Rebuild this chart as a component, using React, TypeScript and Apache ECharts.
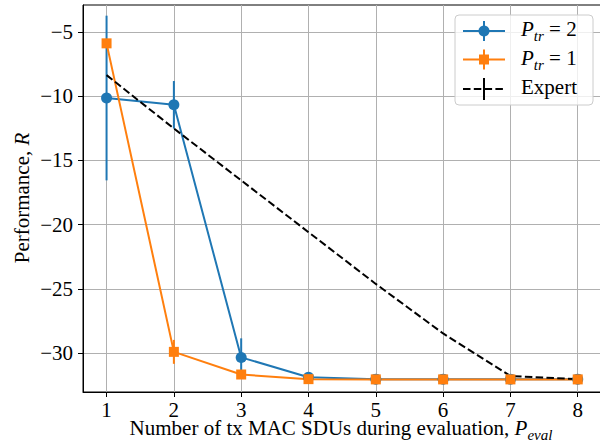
import React, { useEffect, useRef } from 'react';
import * as echarts from 'echarts';

const xValues = [1, 2, 3, 4, 5, 6, 7, 8];
const xTicks = [1, 2, 3, 4, 5, 6, 7, 8];
const yTicks = [-30, -25, -20, -15, -10, -5];
const ptr2Mean = [-10.15, -10.68, -30.31, -31.85, -32.0, -32.0, -32.0, -32.0];
const ptr2Err = [6.4, 1.85, 1.48, 0.1, 0, 0, 0, 0];
const ptr1Mean = [-5.9, -29.88, -31.64, -32.0, -32.02, -32.02, -32.02, -32.02];
const ptr1Err = [0, 0.93, 0.15, 0.05, 0, 0, 0, 0];
const expertMean = [-8.37, -12.52, -16.55, -20.58, -24.6, -28.45, -31.76, -32.0];

const BLUE = '#1f77b4';
const ORANGE = '#ff7f0e';
const FONT = 'Liberation Serif';
const FS = 21;
const SUB = 15;

const fmtNum = (v: number) => (v < 0 ? '\u2212' + Math.abs(v) : String(v));

type Part = { t: string; italic?: boolean; sub?: boolean };

let ctx: CanvasRenderingContext2D | null = null;
const fontStr = (p: Part) => `${p.italic ? 'italic ' : ''}${p.sub ? SUB : FS}px "${FONT}"`;
const measure = (p: Part) => {
  if (!ctx) ctx = document.createElement('canvas').getContext('2d');
  ctx!.font = fontStr(p);
  return ctx!.measureText(p.t).width;
};

// builds text elements; yMid is the "central" line of the main-size text
const mathText = (parts: Part[], x: number, yMid: number, align: 'left' | 'center', z = 0) => {
  const widths = parts.map(measure);
  const total = widths.reduce((a, b) => a + b, 0);
  let cx = align === 'center' ? x - total / 2 : x;
  return parts.map((p, k) => {
    const el = {
      type: 'text',
      x: cx,
      y: p.sub ? yMid + 7 : yMid,
      z,
      silent: true,
      style: {
        text: p.t,
        fontSize: p.sub ? SUB : FS,
        fontFamily: FONT,
        fontStyle: p.italic ? 'italic' : 'normal',
        lineHeight: p.sub ? 12 : 17,
        fill: '#000',
        align: 'left',
        verticalAlign: 'middle',
      },
    };
    cx += widths[k];
    return el;
  });
};

export default function App() {
  const ref = useRef<HTMLDivElement>(null);
  useEffect(() => {
    const chart = echarts.init(ref.current!, null, { renderer: 'svg' });
    const errSeries = (name: string, mean: number[], err: number[], color: string) => ({
      type: 'custom',
      name,
      silent: true,
      data: xValues.map((x, i) => [x, mean[i] - err[i], mean[i] + err[i]]),
      encode: { x: 0, y: [1, 2] },
      renderItem: (_p: any, api: any) => {
        const lo = api.coord([api.value(0), api.value(1)]);
        const hi = api.coord([api.value(0), api.value(2)]);
        return {
          type: 'line',
          shape: { x1: lo[0], y1: lo[1], x2: hi[0], y2: hi[1] },
          style: { stroke: color, lineWidth: 2 },
        };
      },
    });
    const lineSeries = (name: string, mean: number[], color: string, symbol: string, size: number) => ({
      type: 'line',
      name,
      silent: true,
      data: xValues.map((x, i) => [x, mean[i]]),
      symbol,
      symbolSize: size,
      showSymbol: true,
      lineStyle: { color, width: 2 },
      itemStyle: { color, opacity: 1 },
    });

    const legX0 = 463, legX1 = 505, legXm = 484;
    const rows = [31, 59.5, 89];

    chart.setOption({
      animation: false,
      grid: { left: 83, right: -1.3, top: 5, bottom: 50, show: true, borderColor: '#000', borderWidth: 1, backgroundColor: 'transparent', outerBoundsMode: 'none', containLabel: false },
      xAxis: {
        type: 'value', min: 0.65, max: 8.35, splitNumber: 8, minInterval: 1, maxInterval: 1,
        axisLine: { show: true, onZero: false, lineStyle: { color: '#000', width: 1 } },
        axisTick: { show: true, inside: false, length: 5, customValues: xTicks, lineStyle: { color: '#000', width: 1 } },
        axisLabel: { customValues: xTicks, margin: 10, lineHeight: 16, color: '#000', fontSize: FS, fontFamily: FONT, formatter: (v: number) => fmtNum(v) },
        splitLine: { show: true, lineStyle: { color: '#b0b0b0', width: 1 } },
      },
      yAxis: {
        type: 'value', min: -33.0, max: -2.92, splitNumber: 6, minInterval: 5, maxInterval: 5,
        axisLine: { show: true, onZero: false, lineStyle: { color: '#000', width: 1 } },
        axisTick: { show: true, inside: false, length: 5, customValues: yTicks, lineStyle: { color: '#000', width: 1 } },
        axisLabel: { customValues: yTicks, margin: 10, color: '#000', fontSize: FS, fontFamily: FONT, formatter: (v: number) => fmtNum(v) },
        splitLine: { show: true, lineStyle: { color: '#b0b0b0', width: 1 } },
      },
      series: [
        errSeries('P_tr=2 err', ptr2Mean, ptr2Err, BLUE),
        lineSeries('P_tr=2', ptr2Mean, BLUE, 'circle', 11),
        errSeries('P_tr=1 err', ptr1Mean, ptr1Err, ORANGE),
        lineSeries('P_tr=1', ptr1Mean, ORANGE, 'rect', 10),
        {
          type: 'line', name: 'Expert', silent: true,
          data: xValues.map((x, i) => [x, expertMean[i]]),
          symbol: 'none',
          lineStyle: { color: '#000', width: 2, type: [7.5, 3.3] },
        },
      ],
      graphic: [
        ...mathText([
          { t: 'Number of tx MAC SDUs during evaluation, ' },
          { t: 'P', italic: true },
          { t: 'eval', italic: true, sub: true },
        ], 341, 428, 'center'),
        {
          type: 'text', x: 22, y: 198, rotation: Math.PI / 2, silent: true,
          style: {
            text: '{n|Performance, }{i|R}',
            rich: {
              n: { fontSize: FS, fontFamily: FONT, fill: '#000' },
              i: { fontSize: FS, fontFamily: FONT, fontStyle: 'italic', fill: '#000' },
            },
            align: 'center', verticalAlign: 'middle', fontSize: FS, fontFamily: FONT,
          },
        },
        {
          type: 'rect', shape: { x: 455, y: 15, width: 138, height: 90, r: 4 },
          style: { fill: 'rgba(255,255,255,0.8)', stroke: '#cccccc', lineWidth: 1 }, z: 100,
        },
        { type: 'line', shape: { x1: legX0, y1: rows[0], x2: legX1, y2: rows[0] }, style: { stroke: BLUE, lineWidth: 2 }, z: 101 },
        { type: 'line', shape: { x1: legXm, y1: rows[0] - 10, x2: legXm, y2: rows[0] + 10 }, style: { stroke: BLUE, lineWidth: 2 }, z: 101 },
        { type: 'circle', shape: { cx: legXm, cy: rows[0], r: 5.5 }, style: { fill: BLUE }, z: 102 },
        { type: 'line', shape: { x1: legX0, y1: rows[1], x2: legX1, y2: rows[1] }, style: { stroke: ORANGE, lineWidth: 2 }, z: 101 },
        { type: 'line', shape: { x1: legXm, y1: rows[1] - 10, x2: legXm, y2: rows[1] + 10 }, style: { stroke: ORANGE, lineWidth: 2 }, z: 101 },
        { type: 'rect', shape: { x: legXm - 5, y: rows[1] - 5, width: 10, height: 10 }, style: { fill: ORANGE }, z: 102 },
        { type: 'line', shape: { x1: legX0, y1: rows[2], x2: legX1, y2: rows[2] }, style: { stroke: '#000', lineWidth: 2, lineDash: [7.5, 3.3] }, z: 101 },
        { type: 'line', shape: { x1: legXm, y1: rows[2] - 11, x2: legXm, y2: rows[2] + 11 }, style: { stroke: '#000', lineWidth: 2 }, z: 101 },
        ...mathText([{ t: 'P', italic: true }, { t: 'tr', italic: true, sub: true }, { t: ' = 2' }], 521, 28.5, 'left', 103),
        ...mathText([{ t: 'P', italic: true }, { t: 'tr', italic: true, sub: true }, { t: ' = 1' }], 521, 57.5, 'left', 103),
        ...mathText([{ t: 'Expert' }], 521, 86.5, 'left', 103),
      ],
    });
    return () => chart.dispose();
  }, []);
  return <div ref={ref} style={{ position: 'absolute', left: 0, top: 0, width: 600, height: 442 }} />;
}
